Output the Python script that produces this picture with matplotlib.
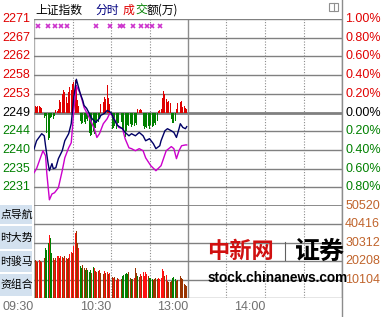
import matplotlib
matplotlib.use('Agg')
import matplotlib.pyplot as plt
from matplotlib.patches import Rectangle
from matplotlib.lines import Line2D

W, H = 388, 317
CJK = ['Noto Sans CJK SC', 'DejaVu Sans']
NUM = 'Liberation Sans'

# ---- data ----
prev_close = 2249.2

# index line, minute from 09:30
idx_t = [0, 2, 6, 8, 9, 11, 12, 14, 15, 17, 19, 22, 24, 27, 29, 30, 31, 33, 36, 38,
         39, 41, 43, 45, 48, 51, 52, 55, 57, 60, 62, 65, 69, 71, 74, 76, 79, 82, 85, 87,
         90, 93, 95, 98, 99, 102, 104, 107, 109, 111, 113, 114, 116, 118, 119]
idx_v = [2240.4, 2242.4, 2244.1, 2243.6, 2241.2, 2236.9, 2235.2, 2236.9, 2235.7, 2235.9,
         2238.1, 2240.0, 2242.4, 2244.1, 2246.5, 2249.7, 2252.9, 2257.2, 2253.8, 2252.1,
         2250.9, 2250.2, 2249.0, 2247.8, 2246.8, 2247.8, 2248.5, 2249.0, 2249.7, 2249.2,
         2247.8, 2246.1, 2245.3, 2244.4, 2243.6, 2244.1, 2243.6, 2244.4, 2243.6, 2242.4,
         2242.9, 2241.7, 2240.5, 2241.2, 2242.4, 2244.8, 2245.3, 2244.8, 2244.4, 2243.2,
         2245.3, 2246.5, 2245.6, 2245.3, 2245.8]

# unweighted line
avg_t = [0, 2, 5, 7, 9, 10, 12, 14, 16, 19, 22, 24, 27, 29, 30, 31, 33, 36, 38, 39,
         43, 47, 49, 51, 54, 57, 59, 61, 64, 66, 69, 71, 74, 76, 79, 82, 85, 87, 91, 95,
         99, 103, 107, 109, 111, 113, 115, 118, 119]
avg_v = [2234.7, 2235.7, 2238.3, 2240.0, 2238.8, 2234.5, 2228.2, 2229.6, 2229.9, 2231.1,
         2235.2, 2238.3, 2240.7, 2241.9, 2245.6, 2249.7, 2255.6, 2253.8, 2251.6, 2250.4,
         2248.0, 2245.3, 2243.2, 2244.1, 2246.5, 2247.7, 2249.0, 2248.5, 2246.8, 2245.6,
         2245.3, 2242.9, 2240.7, 2240.5, 2240.0, 2240.5, 2240.0, 2238.3, 2236.4, 2235.2,
         2236.4, 2240.0, 2241.0, 2240.5, 2238.1, 2240.0, 2241.2, 2241.4, 2241.4]

# red/green strength bars (arbitrary units)
strength = [-13, 6, 5, 6, 6, 5, 4, -4, -5, -3,
            -20, -27, -25, -5, -4, -6, -3, 2, 1, 3,
            12, 10, 18, 22, 20, 15, 9, 20, 25, 22,
            28, 30, 32, 27, 12, 6, -8, -11, -10, -9,
            -11, -6, -8, -20, -23, -22, -18, -21, -15, -10,
            -9, -6, 8, 12, 10, 15, 13, 27, 14, 8,
            -14, -16, -15, -13, -16, -11, -10, -12, -9, -15,
            -20, -24, -18, -12, -13, -11, -14, -12, -13, -10,
            -12, 3, 2, 3, 2, -13, -16, -14, -15, -13,
            -16, -12, -14, -13, -10, -12, -8, 1, 2, 3,
            14, 21, 18, 13, 10, 11, 9, -6, -10, -10,
            -8, 3, 9, 12, 10, 11, 5, 6, 4, 3]

# turnover per minute (万)
volume = [46700, 20900, 20300, 19800, 20900, 20300, 19800, 19200, 22000, 27500,
          26400, 30200, 34600, 32900, 24700, 22000, 20900, 22000, 23100, 23100,
          22000, 23100, 22500, 22000, 23100, 22000, 21400, 22000, 24200, 25300,
          24700, 28500, 35700, 36800, 30200, 27500, 17600, 16500, 18100, 16500,
          15400, 16500, 15400, 14300, 15400, 13700, 17000, 16500, 14800, 14300,
          14800, 15400, 13700, 14300, 13200, 14800, 13700, 14300, 13200, 13700,
          11000, 11500, 11000, 11500, 9900, 11000, 10400, 11000, 10400, 12100,
          12600, 13200, 13700, 13200, 14300, 11000, 10400, 10400, 11000, 16500,
          13700, 12100, 11500, 13200, 12100, 14300, 12100, 14300, 13200, 12100,
          11000, 11000, 10400, 9900, 10400, 11000, 10400, 11000, 10400, 11000,
          15900, 14800, 12100, 12600, 9300, 8800, 8800, 9300, 11000, 11500,
          10400, 9300, 9900, 17000, 12100, 11000, 10400, 7700, 7100, 6600]
vol_color = ('gbrbrbrgbg' 'ggrggbrbrr' 'brbrbrbbrr' 'brrbbrggbb'
             'gbgggbgrbr' 'brbrbrbrbr' 'bbrbrbrbbg' 'ggggbbgbrb'
             'bgbrbrrrrb' 'gggbbbbrrr' 'rrbrbbbbgg' 'gbbrbbbbbb')

signal_t = [3, 11, 16, 21, 26, 48, 59, 67, 69, 77, 83, 88, 92, 98]

price_labels = ['2271', '2267', '2262', '2258', '2253', '2249', '2244', '2240', '2235', '2231']
pct_labels = ['1.00%', '0.80%', '0.60%', '0.40%', '0.20%', '0.00%', '0.20%', '0.40%', '0.60%', '0.80%']
vol_labels = ['50520', '40416', '30312', '20208', '10104']
time_labels = ['09:30', '10:30', '13:00', '14:00']
time_pos = [0, 60, 120, 180]
buttons = ['点导航', '时大势', '时骏马', '资组合']

RED = '#e00000'
GREEN = '#008000'
cmap = {'r': '#ff1010', 'g': '#008000', 'b': '#993300'}
GRID = '#8c8c8c'


def fx(x):
    return x / W


def fy(y):
    return 1 - y / H


fig = plt.figure(figsize=(W / 100, H / 100), dpi=100)
fig.patch.set_facecolor('white')

L, R = 34, 342
ax = fig.add_axes([fx(L), fy(206), fx(R) - fx(L), fy(19) - fy(206)])
axv = fig.add_axes([fx(L), fy(298), fx(R) - fx(L), fy(206) - fy(298)])

for a in (ax, axv):
    a.set_xlim(0, 240)
    a.set_xticks([])
    a.set_yticks([])
    for s in a.spines.values():
        s.set_visible(False)
    for t in (30, 60, 90, 150, 180, 210):
        a.axvline(t, color=GRID, lw=0.8, ls=(0, (1, 1.5)), zorder=1)
    a.axvline(120, color=GRID, lw=1, zorder=1)
    a.axvline(0, color='#b0b0b0', lw=1, zorder=1)
    a.axvline(240, color=GRID, lw=1, zorder=1)

# price pane
lo, hi = prev_close * 0.99, prev_close * 1.01
ax.set_ylim(lo, hi)
levels = [prev_close * (1 + p / 1000) for p in (10, 8, 6, 4, 2, 0, -2, -4, -6, -8)]
for i, lv in enumerate(levels):
    ax.axhline(lv, color='#808080', lw=2 if i == 5 else 1, zorder=1)
    col = RED if i < 5 else ('black' if i == 5 else GREEN)
    ax.text(-0.012, lv, price_labels[i], transform=ax.get_yaxis_transform(),
            ha='right', va='center', color=col, fontsize=9, family=NUM)
    ax.text(1.01, lv, pct_labels[i], transform=ax.get_yaxis_transform(),
            ha='left', va='center', color=col, fontsize=9, family=NUM)
ax.axhline(lo, color='#808080', lw=2, zorder=1)

unit = prev_close * 0.01 / 93
for m, s in enumerate(strength):
    ax.bar(m, s * unit, bottom=prev_close, width=0.75,
           color=RED if s > 0 else GREEN, lw=0, zorder=2)
ax.plot(avg_t, avg_v, color='#cc00cc', lw=1, zorder=3)
ax.plot(idx_t, idx_v, color='#000066', lw=1, zorder=4)
ax.plot(signal_t, [prev_close * 1.0092] * len(signal_t), ls='none', marker='x',
        ms=3.5, mew=1.2, color='#cc33cc', zorder=4)

# volume pane
axv.set_ylim(0, 50520)
for i, v in enumerate((50520, 40416, 30312, 20208, 10104)):
    if i > 0:
        axv.axhline(v, color='#808080', lw=1, zorder=1)
    axv.text(1.01, v, vol_labels[i], transform=axv.get_yaxis_transform(),
             ha='left', va='center', color='#c0642c', fontsize=9, family=NUM)
axv.axhline(0, color='#808080', lw=1, zorder=1)
axv.bar(range(len(volume)), volume, width=0.75,
        color=[cmap[c] for c in vol_color], lw=0, zorder=2)

for t, lab in zip(time_pos, time_labels):
    axv.text(t, -0.1, lab, transform=axv.get_xaxis_transform(), ha='right', va='center',
             color='#707070', fontsize=9, family=NUM)

# right border line full height
fig.add_artist(Line2D([fx(R), fx(R)], [0, 1], color=GRID, lw=1))

# title
fig.text(fx(35), fy(10), '上证指数', family=CJK, fontsize=8.5, va='center')
fig.text(fx(95), fy(10), '分时', family=CJK, fontsize=8.5, va='center', color='#000080')
fig.text(fx(123), fy(10), '成', family=CJK, fontsize=8.5, va='center', color=RED)
fig.text(fx(135), fy(10), '交', family=CJK, fontsize=8.5, va='center', color=GREEN)
fig.text(fx(147), fy(10), '额(万)', family=CJK, fontsize=8.5, va='center')

# little window icon
fig.add_artist(Rectangle((fx(329), fy(11)), fx(9), fy(3) - fy(11), fill=False,
                         ec='#909090', lw=0.8))
fig.add_artist(Line2D([fx(334), fx(334)], [fy(11), fy(3)], color='#909090', lw=0.8))

# side buttons
rows = [(205, 224), (226, 249), (251, 272), (274, 296)]
for (y0, y1), lab in zip(rows, buttons):
    fig.add_artist(Rectangle((0, fy(y1)), fx(32), fy(y0) - fy(y1), fc='#d3e1ef', ec='none'))
    fig.text(fx(0.5), fy((y0 + y1) / 2), lab, family=CJK, fontsize=7.8, ha='left', va='center')

# watermark
fig.text(fx(240), fy(251), '中新网', family=CJK, fontsize=16, fontweight='bold',
         color='#d01010', ha='center', va='center')
fig.add_artist(Line2D([fx(285), fx(285)], [fy(260), fy(242)], color='#606060', lw=0.8))
fig.text(fx(320), fy(252), '证券', family=CJK, fontsize=18, fontweight='bold',
         color='black', ha='center', va='center')
fig.text(fx(278), fy(278), 'stock.chinanews.com', family=NUM, fontsize=9.8,
         fontweight='bold', color='black', ha='center', va='center')

fig.savefig('out.png', dpi=100)
